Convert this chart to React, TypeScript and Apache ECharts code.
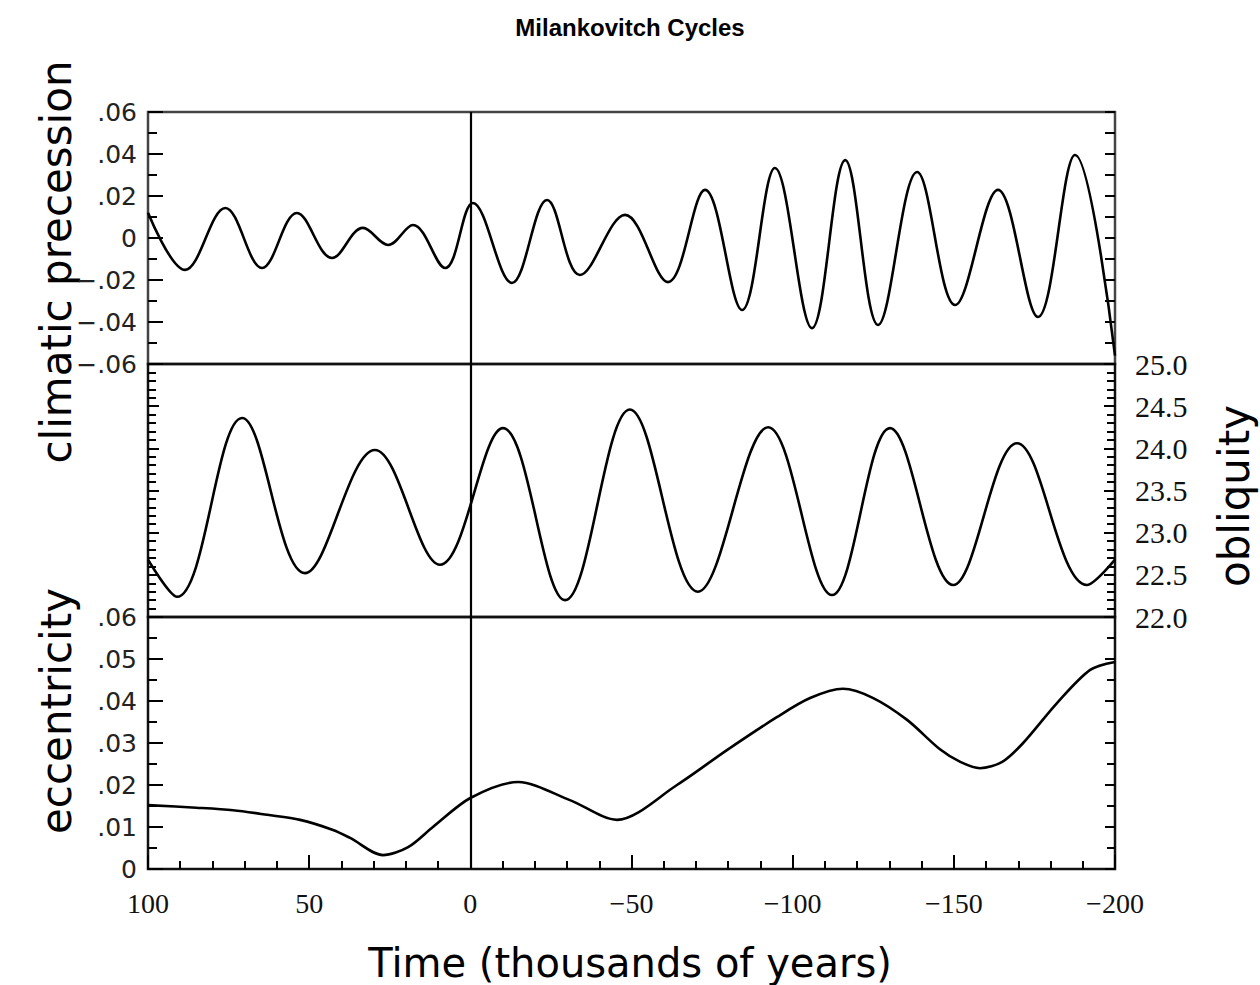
import React, { useEffect, useRef } from "react";
import * as echarts from "echarts";

// Time in thousands of years (positive = future, negative = past)
const precessionT = [100, 88.5, 76, 64.6, 53.8, 42.9, 33.3, 25.5, 17.8, 7.8, -0.8, -12.9, -23.8, -34, -48, -61.3, -72.8, -84.3, -94.5, -106, -116.3, -126.5, -138.6, -150.4, -163.7, -176.1, -187.6, -200];
const precessionV = [0.012, -0.0152, 0.0143, -0.0143, 0.0119, -0.0095, 0.0048, -0.0033, 0.0062, -0.0143, 0.0167, -0.0214, 0.0181, -0.0176, 0.011, -0.021, 0.0229, -0.0343, 0.0333, -0.0429, 0.0371, -0.0414, 0.0314, -0.0319, 0.0229, -0.0376, 0.0395, -0.056];

const obliquityT = [100, 91, 70.8, 51.3, 29.6, 9.4, -10.1, -29.4, -49.5, -70.6, -92.4, -112.2, -130.2, -149.8, -169.6, -191.3, -200];
const obliquityV = [22.68, 22.24, 24.36, 22.52, 23.98, 22.62, 24.24, 22.2, 24.46, 22.3, 24.25, 22.26, 24.24, 22.38, 24.06, 22.38, 22.68];

const eccentricityT = [100, 85, 73.6, 63, 52.8, 42.6, 37.3, 27.1, 19.3, 11.6, 0, -14.8, -30.9, -45.5, -64.1, -79.6, -95.2, -105.4, -115.6, -125, -135.5, -145.7, -152, -158.1, -165, -171.5, -182, -192.3, -200];
const eccentricityV = [0.0152, 0.0146, 0.014, 0.0129, 0.0117, 0.0093, 0.0074, 0.0033, 0.0052, 0.01, 0.0169, 0.0207, 0.0164, 0.0117, 0.02, 0.0283, 0.0362, 0.0407, 0.0429, 0.0407, 0.0355, 0.0285, 0.0255, 0.024, 0.0255, 0.03, 0.0395, 0.0474, 0.0493];

const TITLE = "Milankovitch Cycles";
const X_TITLE = "Time (thousands of years)";
const PREC_TITLE = "climatic precession";
const OBL_TITLE = "obliquity";
const ECC_TITLE = "eccentricity";

const zip = (t: number[], v: number[]) => t.map((x, i) => [x, v[i]]);

const fmtSmall = (v: number) => {
  const r = Math.round(v * 100) / 100;
  if (r === 0) return "0";
  const s = Math.abs(r).toFixed(2).replace(/^0/, "");
  return (r < 0 ? "\u2212" : "") + s;
};
const fmtX = (v: number) => (v < 0 ? "\u2212" + Math.abs(v) : String(v));

const GRID_LEFT = 148;
const GRID_W = 967;
const grids = [
  { top: 112, height: 252 },
  { top: 364, height: 253 },
  { top: 617, height: 252 },
];

export default function App() {
  const ref = useRef<HTMLDivElement>(null);
  useEffect(() => {
    if (!ref.current) return;
    const chart = echarts.init(ref.current, null, { renderer: "svg" });

    const tickStyle = { color: "#000", width: 2 };
    const yAxisBase = (gridIndex: number, position: string, min: number, max: number, interval: number, minorSplit: number, majorLen: number, minorLen: number, label: any) => ({
      type: "value",
      gridIndex,
      position,
      min,
      max,
      interval,
      axisLine: { show: false, onZero: false },
      splitLine: { show: false },
      axisTick: { show: true, inside: true, length: majorLen, lineStyle: tickStyle },
      minorTick: { show: true, splitNumber: minorSplit, length: minorLen, lineStyle: tickStyle },
      minorSplitLine: { show: false },
      axisLabel: label,
    });

    const leftLabel = {
      show: true,
      formatter: fmtSmall,
      fontFamily: "DejaVu Sans",
      fontSize: 25,
      color: "#222",
      margin: 11,
    };

    const option: any = {
      animation: false,
      backgroundColor: "#fff",
      grid: grids.map((g, i) => ({
        left: GRID_LEFT,
        width: GRID_W,
        top: g.top,
        height: g.height,
        show: true,
        borderColor: i === 0 ? "#444" : "#111",
        borderWidth: 2.5,
        backgroundColor: "transparent",
      })),
      xAxis: [0, 1, 2].map((i) => ({
        type: "value",
        gridIndex: i,
        min: -200,
        max: 100,
        interval: 50,
        inverse: true,
        axisLine: { show: false, onZero: false },
        splitLine: { show: false },
        minorSplitLine: { show: false },
        axisTick: i === 2 ? { show: true, inside: true, length: 14, lineStyle: tickStyle } : { show: false },
        minorTick: i === 2 ? { show: true, splitNumber: 5, length: 8, lineStyle: tickStyle } : { show: false },
        axisLabel:
          i === 2
            ? { show: true, formatter: fmtX, fontFamily: "Liberation Serif", fontSize: 28, color: "#111", margin: 20 }
            : { show: false },
      })),
      yAxis: [
        yAxisBase(0, "left", -0.06, 0.06, 0.02, 2, 15, 9, leftLabel),
        yAxisBase(0, "right", -0.06, 0.06, 0.02, 2, 10, 10, { show: false }),
        yAxisBase(1, "left", 22, 25, 0.5, 5, 11, 8, { show: false }),
        yAxisBase(1, "right", 22, 25, 0.5, 5, 11, 8, {
          show: true,
          formatter: (v: number) => v.toFixed(1),
          fontFamily: "Liberation Serif",
          fontSize: 30,
          color: "#111",
          margin: 20,
        }),
        yAxisBase(2, "left", 0, 0.06, 0.01, 2, 15, 9, leftLabel),
        yAxisBase(2, "right", 0, 0.06, 0.01, 2, 10, 8, { show: false }),
      ],
      series: [
        { data: zip(precessionT, precessionV), xAxisIndex: 0, yAxisIndex: 0, smooth: 0.37 },
        { data: zip(obliquityT, obliquityV), xAxisIndex: 1, yAxisIndex: 2, smooth: 0.37 },
        { data: zip(eccentricityT, eccentricityV), xAxisIndex: 2, yAxisIndex: 4, smooth: 0.3 },
      ].map((s) => ({
        type: "line",
        ...s,
        showSymbol: false,
        symbol: "none",
        lineStyle: { color: "#000", width: 2.6 },
        emphasis: { disabled: true },
        markLine: {
          silent: true,
          symbol: ["none", "none"],
          label: { show: false },
          lineStyle: { color: "#000", width: 2.2, type: "solid" },
          data: [{ xAxis: 0 }],
        },
      })),
      graphic: [
        {
          type: "text",
          x: 630,
          y: 27,
          style: { text: TITLE, font: 'bold 24px "Liberation Sans"', fill: "#000", textAlign: "center", textVerticalAlign: "middle" },
        },
        {
          type: "text",
          x: 56,
          y: 262,
          rotation: Math.PI / 2,
          style: { text: PREC_TITLE, font: '42px "DejaVu Sans"', fill: "#000", textAlign: "center", textVerticalAlign: "middle" },
        },
        {
          type: "text",
          x: 56,
          y: 711,
          rotation: Math.PI / 2,
          style: { text: ECC_TITLE, font: '42px "DejaVu Sans"', fill: "#000", textAlign: "center", textVerticalAlign: "middle" },
        },
        {
          type: "text",
          x: 1234,
          y: 496,
          rotation: Math.PI / 2,
          style: { text: OBL_TITLE, font: '42px "DejaVu Sans"', fill: "#000", textAlign: "center", textVerticalAlign: "middle" },
        },
        {
          type: "text",
          x: 630,
          y: 963,
          style: { text: X_TITLE, font: '40px "DejaVu Sans"', fill: "#000", textAlign: "center", textVerticalAlign: "middle" },
        },
      ],
    };
    chart.setOption(option);
    return () => chart.dispose();
  }, []);
  return <div ref={ref} style={{ position: "fixed", left: 0, top: 0, width: 1260, height: 985 }} />;
}
